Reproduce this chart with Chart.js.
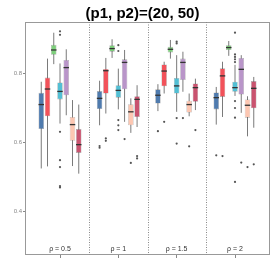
<!DOCTYPE html>
<html>
<head>
<meta charset="utf-8">
<script src="https://cdn.jsdelivr.net/npm/chart.js@4.4.1/dist/chart.umd.min.js"></script>
<style>
  html, body { margin: 0; padding: 0; background: #fff; }
</style>
</head>
<body>
<canvas id="chart" width="273" height="273"></canvas>
<script>
// data
const chartTitle = '(p1, p2)=(20, 50)';
const groups = ['ρ = 0.5', 'ρ = 1', 'ρ = 1.5', 'ρ = 2'];
const series = ['S1', 'S2', 'S3', 'S4', 'S5', 'S6', 'S7'];
const yTicks = [0.4, 0.6, 0.8];

// one row per series, one column per group
const lowerWhisker = [
  [0.525, 0.650, 0.691, 0.652],
  [0.531, 0.684, 0.742, 0.674],
  [0.827, 0.845, 0.843, 0.851],
  [0.655, 0.696, 0.689, 0.735],
  [0.679, 0.660, 0.747, 0.686],
  [0.532, 0.628, 0.676, 0.618],
  [0.510, 0.645, 0.694, 0.643]
];
const q1 = [
  [0.639, 0.697, 0.713, 0.696],
  [0.676, 0.742, 0.763, 0.732],
  [0.854, 0.863, 0.861, 0.868],
  [0.725, 0.730, 0.742, 0.747],
  [0.737, 0.754, 0.781, 0.739],
  [0.605, 0.650, 0.687, 0.672],
  [0.570, 0.674, 0.718, 0.699]
];
const median = [
  [0.710, 0.728, 0.737, 0.730],
  [0.755, 0.808, 0.807, 0.793],
  [0.868, 0.872, 0.870, 0.875],
  [0.748, 0.751, 0.764, 0.759],
  [0.817, 0.832, 0.832, 0.812],
  [0.652, 0.689, 0.710, 0.708],
  [0.594, 0.725, 0.759, 0.757]
];
const q3 = [
  [0.744, 0.749, 0.754, 0.745],
  [0.788, 0.813, 0.826, 0.815],
  [0.883, 0.882, 0.877, 0.882],
  [0.774, 0.766, 0.787, 0.776],
  [0.839, 0.841, 0.843, 0.845],
  [0.674, 0.711, 0.721, 0.725],
  [0.639, 0.734, 0.771, 0.778]
];
const upperWhisker = [
  [0.776, 0.779, 0.769, 0.761],
  [0.843, 0.845, 0.834, 0.834],
  [0.918, 0.899, 0.897, 0.894],
  [0.829, 0.814, 0.853, 0.825],
  [0.870, 0.868, 0.863, 0.853],
  [0.723, 0.728, 0.742, 0.734],
  [0.710, 0.766, 0.785, 0.790]
];
const outliers = [
  [[], [0.590, 0.585], [0.633], [0.563]],
  [[], [0.612, 0.605], [0.660], [0.561]],
  [[], [], [], []],
  [[0.922, 0.912, 0.631, 0.549, 0.529, 0.474, 0.470],
   [0.882, 0.865, 0.665, 0.650, 0.636],
   [0.892, 0.887, 0.671, 0.597],
   [0.918, 0.855, 0.848, 0.841, 0.833, 0.720, 0.700, 0.672, 0.486]],
  [[], [0.610], [0.671], [0.542]],
  [[], [0.541], [0.589], [0.529]],
  [[], [0.561, 0.554], [0.636], [0.537]]
];

const colors = ['#4f7bae', '#f2525a', '#7dcf7b', '#52bfd4', '#b995c9', '#fdc7b2', '#c9536f'];
const FONT = '"Liberation Sans", Arial, sans-serif';

// whiskers, medians, outliers, frame and labels
const boxExtras = {
  id: 'boxExtras',
  beforeDatasetsDraw(chart) {
    const ctx = chart.ctx, y = chart.scales.y;
    ctx.save();
    ctx.strokeStyle = '#7a7a7a';
    ctx.lineWidth = 1;
    series.forEach((s, d) => {
      chart.getDatasetMeta(d).data.forEach((el, i) => {
        ctx.beginPath();
        ctx.moveTo(el.x, y.getPixelForValue(lowerWhisker[d][i]));
        ctx.lineTo(el.x, y.getPixelForValue(upperWhisker[d][i]));
        ctx.stroke();
      });
    });
    ctx.restore();
  },
  afterDatasetsDraw(chart) {
    const ctx = chart.ctx, y = chart.scales.y;
    ctx.save();
    series.forEach((s, d) => {
      chart.getDatasetMeta(d).data.forEach((el, i) => {
        const py = y.getPixelForValue(median[d][i]);
        ctx.strokeStyle = '#333';
        ctx.lineWidth = 1.3;
        ctx.beginPath();
        ctx.moveTo(el.x - el.width / 2, py);
        ctx.lineTo(el.x + el.width / 2, py);
        ctx.stroke();
        ctx.fillStyle = '#555';
        outliers[d][i].forEach(v => {
          ctx.beginPath();
          ctx.arc(el.x, y.getPixelForValue(v), 1.1, 0, Math.PI * 2);
          ctx.fill();
        });
      });
    });
    ctx.restore();
  },
  afterDraw(chart) {
    const ctx = chart.ctx, a = chart.chartArea, x = chart.scales.x;
    ctx.save();
    // panel frame
    ctx.strokeStyle = '#999';
    ctx.lineWidth = 1;
    ctx.strokeRect(a.left + 0.5, a.top + 0.5, a.right - a.left - 1, a.bottom - a.top - 1);
    // dotted separators between groups
    ctx.setLineDash([1, 1.5]);
    ctx.strokeStyle = '#888';
    for (let i = 1; i < groups.length; i++) {
      const px = Math.round(x.getPixelForValue(i + 0.5)) + 0.5;
      ctx.beginPath();
      ctx.moveTo(px, a.top);
      ctx.lineTo(px, a.bottom);
      ctx.stroke();
    }
    ctx.setLineDash([]);
    // group labels
    ctx.fillStyle = '#333';
    ctx.font = '7px ' + FONT;
    ctx.textAlign = 'center';
    ctx.textBaseline = 'middle';
    groups.forEach((g, i) => ctx.fillText(g, x.getPixelForValue(i + 1), a.bottom - 6));
    // title
    ctx.fillStyle = '#000';
    ctx.font = 'bold 15px ' + FONT;
    ctx.fillText(chartTitle, (a.left + a.right) / 2 - 5, 14);
    ctx.restore();
  }
};

new Chart(document.getElementById('chart'), {
  type: 'bar',
  data: {
    datasets: series.map((s, d) => ({
      label: s,
      data: groups.map((g, i) => ({ x: i + 1, y: [q1[d][i], q3[d][i]] })),
      backgroundColor: colors[d],
      borderColor: 'rgba(70,70,70,0.45)',
      borderWidth: 0.6,
      borderSkipped: false,
      categoryPercentage: 0.75,
      barPercentage: 0.88
    }))
  },
  options: {
    responsive: false,
    animation: false,
    devicePixelRatio: 1,
    layout: { padding: { top: 22, right: 3, left: 0, bottom: 0 } },
    plugins: {
      legend: { display: false },
      title: { display: false },
      tooltip: { enabled: false }
    },
    scales: {
      x: {
        type: 'linear',
        min: 0.4,
        max: 4.6,
        offset: false,
        afterBuildTicks: s => { s.ticks = groups.map((g, i) => ({ value: i + 1 })); },
        afterFit: s => { s.height = 18; },
        ticks: { callback: () => '', font: { size: 6 } },
        grid: { offset: false, drawOnChartArea: false, tickLength: 3, color: '#888' },
        border: { display: false }
      },
      y: {
        min: 0.2745,
        max: 0.949,
        afterBuildTicks: s => { s.ticks = yTicks.map(v => ({ value: v })); },
        afterFit: s => { s.width = 25; },
        ticks: {
          callback: v => v.toFixed(1),
          color: '#888',
          padding: 1,
          font: { size: 6, family: FONT }
        },
        grid: { offset: false, drawOnChartArea: false, tickLength: 2, color: '#888' },
        border: { display: false }
      }
    }
  },
  plugins: [boxExtras]
});
</script>
</body>
</html>
